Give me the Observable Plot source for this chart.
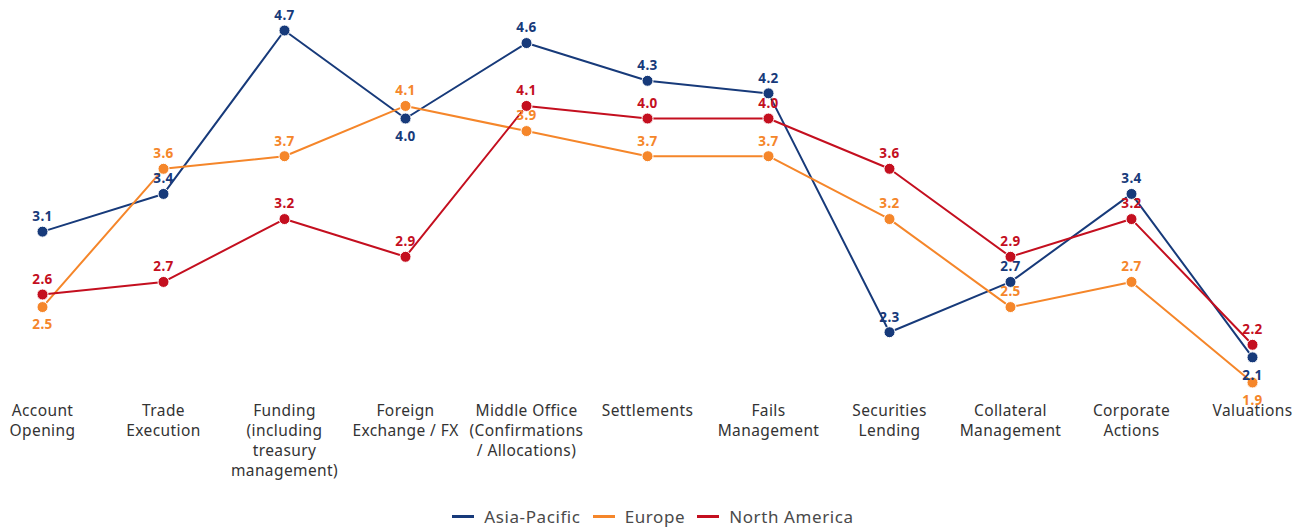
<!DOCTYPE html>
<html>
<head>
<meta charset="utf-8">
<script src="https://cdn.jsdelivr.net/npm/d3@7"></script>
<script src="https://cdn.jsdelivr.net/npm/@observablehq/plot@0.6"></script>
<style>
  body { margin: 0; background: #fff; font-family: "Noto Sans", sans-serif; }
  #chart svg { display: block; }
  #legend { display: flex; justify-content: center; align-items: center; gap: 12px; height: 30px; margin-top: 11px; font-size: 17px; letter-spacing: 0.6px; color: #4a4a4a; }
  #legend .item { display: flex; align-items: center; gap: 10px; }
  #legend .sw { width: 22px; height: 3px; display: inline-block; }
  #chart svg text { letter-spacing: 0.4px; }
</style>
</head>
<body>
<div id="chart"></div>
<div id="legend"></div>
<script>
const categories = ["Account Opening", "Trade Execution", "Funding (including treasury management)", "Foreign Exchange / FX", "Middle Office (Confirmations / Allocations)", "Settlements", "Fails Management", "Securities Lending", "Collateral Management", "Corporate Actions", "Valuations"];
const tickLabels = ["Account\nOpening", "Trade\nExecution", "Funding\n(including\ntreasury\nmanagement)", "Foreign\nExchange / FX", "Middle Office\n(Confirmations\n/ Allocations)", "Settlements", "Fails\nManagement", "Securities\nLending", "Collateral\nManagement", "Corporate\nActions", "Valuations"];
const seriesNames = ["Asia-Pacific", "Europe", "North America"];
const asiaPacific = [3.1, 3.4, 4.7, 4.0, 4.6, 4.3, 4.2, 2.3, 2.7, 3.4, 2.1];
const europe = [2.5, 3.6, 3.7, 4.1, 3.9, 3.7, 3.7, 3.2, 2.5, 2.7, 1.9];
const northAmerica = [2.6, 2.7, 3.2, 2.9, 4.1, 4.0, 4.0, 3.6, 2.9, 3.2, 2.2];
const colors = ["#173a7a", "#f5862a", "#c40f1f"];

const valuesBySeries = [asiaPacific, europe, northAmerica];
const data = [];
seriesNames.forEach((s, i) => categories.forEach((c, j) => data.push({series: s, category: c, value: valuesBySeries[i][j]})));
// labels drawn beneath their point (as in the reference)
const below = new Set(["Asia-Pacific|Foreign Exchange / FX", "Asia-Pacific|Valuations", "Europe|Account Opening", "Europe|Valuations"]);
const isBelow = d => below.has(d.series + "|" + d.category);
const labelOf = new Map(categories.map((c, i) => [c, tickLabels[i]]));

const chart = Plot.plot({
  width: 1306,
  height: 490,
  marginLeft: 42,
  marginRight: 54,
  marginTop: 30,
  marginBottom: 108,
  style: {fontFamily: "Noto Sans, sans-serif", background: "#fff"},
  x: {type: "point", domain: categories, padding: 0, label: null},
  y: {domain: [1.9, 4.7], axis: null},
  color: {domain: seriesNames, range: colors},
  marks: [
    Plot.axisX({tickSize: 0, tickPadding: 19, fontSize: 15.5, lineHeight: 1.3, fill: "#333", tickFormat: c => labelOf.get(c), label: null}),
    Plot.line(data, {x: "category", y: "value", z: "series", stroke: "series", strokeWidth: 2}),
    Plot.dot(data, {x: "category", y: "value", fill: "series", r: 5.5, stroke: "#fff", strokeWidth: 1}),
    Plot.text(data.filter(d => !isBelow(d)), {x: "category", y: "value", text: d => d.value.toFixed(1), fill: "series", dy: -15, fontSize: 13.5, fontWeight: "bold"}),
    Plot.text(data.filter(isBelow), {x: "category", y: "value", text: d => d.value.toFixed(1), fill: "series", dy: 18, fontSize: 13.5, fontWeight: "bold"})
  ]
});
document.getElementById("chart").append(chart);

const legend = document.getElementById("legend");
seriesNames.forEach((s, i) => {
  const item = document.createElement("span");
  item.className = "item";
  const sw = document.createElement("span");
  sw.className = "sw";
  sw.style.background = colors[i];
  item.append(sw, document.createTextNode(s));
  legend.append(item);
});
</script>
</body>
</html>
